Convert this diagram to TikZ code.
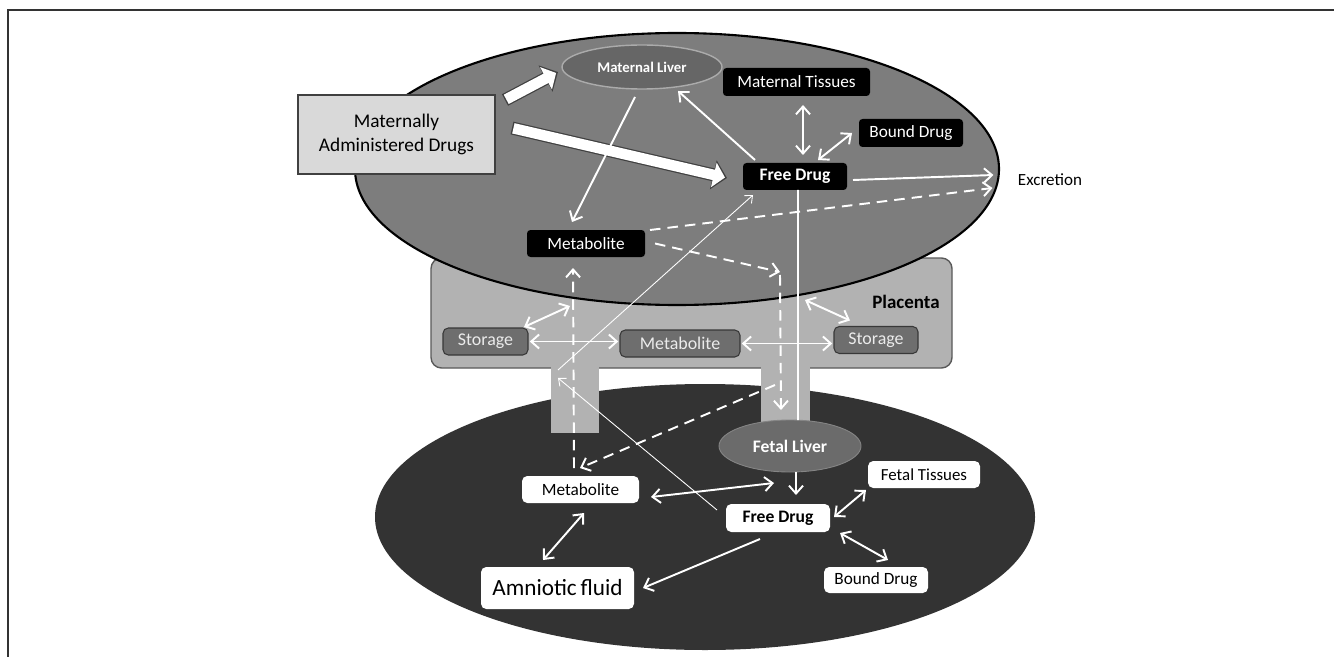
\documentclass[tikz,border=0pt]{standalone}
\usepackage{fontspec}
\setmainfont{Carlito}
\usetikzlibrary{arrows.meta,shapes.geometric}

\newcommand{\fsz}[1]{\fontsize{#1}{1.2\dimexpr #1\relax}\selectfont}

\tikzset{
  every node/.style={inner sep=0pt, outer sep=0pt},
  blackbox/.style={fill=black, text=white, rounded corners=2pt, minimum height=0.56cm, font=\fsz{9.8pt}},
  greybox/.style={fill=black!57, draw=black!78, line width=0.6pt, text=white!92!black, rounded corners=3pt, minimum height=0.54cm, font=\fsz{10.2pt}},
  whitebox/.style={fill=white, text=black, rounded corners=3pt, minimum height=0.54cm, font=\fsz{9.8pt}},
  liver/.style={ellipse, fill=black!60, line width=0.8pt, text=white, font=\bfseries\fsz{10pt}},
  wline/.style={draw=white, line width=1.1pt, -{Straight Barb[length=4.5pt,width=8pt]}},
  wboth/.style={wline, {Straight Barb[length=4.5pt,width=8pt]}-{Straight Barb[length=4.5pt,width=8pt]}},
  wdash/.style={wline, dash pattern=on 6pt off 4pt},
  wthin/.style={draw=white, line width=0.5pt, -{Straight Barb[length=3.5pt,width=6pt]}},
  fatarrow/.style={draw=white, line width=6pt, shorten <=0.8pt, shorten >=1.2pt,
    -{Triangle[length=6.5pt,width=14pt]},
    preaction={draw=black!75, line width=7.4pt, shorten <=0pt, shorten >=0pt,
      -{Triangle[length=8pt,width=16.5pt]}}}
}

\begin{document}
\begin{tikzpicture}
        \useasboundingbox (0,0) rectangle (26.68,-13.14);
        \draw[black!80, line width=0.8pt] (0.16,-13.14) -- (0.16,-0.2) -- (26.68,-0.2);

        % ~~~~ Compartimentos ~~~~ %
        \fill[black!80] (14.1,-10.34) ellipse (6.6 and 2.66);
        \draw[fill=black!30, draw=black!65, line width=0.8pt, rounded corners=6pt]
            (8.62,-5.16) rectangle (19.04,-7.36);
        \fill[black!30] (11.02,-7.3) rectangle (11.98,-8.66);
        \fill[black!30] (15.22,-7.3) rectangle (16.2,-8.44);
        \draw[fill=black!51, line width=1.2pt] (13.54,-3.38) ellipse (6.44 and 2.72);

        % ~~~~ Madre ~~~~ %
        \node[fill=black!15, draw=black!75, line width=1pt, minimum width=3.94cm, minimum height=1.58cm,
            align=center, font=\fsz{11pt}] (drugs) at (7.93,-2.69) {Maternally\\Administered Drugs};
        \node[liver, draw=black!33, minimum width=3.2cm, minimum height=0.88cm, font=\bfseries\fsz{8.4pt}]
            (mliver) at (12.84,-1.34) {Maternal Liver};
        \node[blackbox, minimum width=2.94cm] (mtissue) at (15.93,-1.64) {Maternal Tissues};
        \node[blackbox, minimum width=2.08cm] (mbound) at (18.22,-2.66) {Bound Drug};
        \node[blackbox, minimum width=2.08cm, minimum height=0.54cm, font=\bfseries\fsz{10pt}]
            (mfree) at (15.9,-3.53) {Free Drug};
        \node[blackbox, minimum width=2.36cm, minimum height=0.54cm] (mmeta) at (11.72,-4.87) {Metabolite};
        \node[font=\fsz{9.7pt}] (excr) at (21.0,-3.6) {Excretion};

        % ~~~~ Placenta ~~~~ %
        \node[font=\bfseries\fsz{10.8pt}] (plac) at (18.12,-6.04) {Placenta};
        \node[greybox, minimum width=1.7cm] (lstore) at (9.71,-6.83) {Storage};
        \node[greybox, minimum width=2.4cm] (pmeta) at (13.6,-6.87) {Metabolite};
        \node[greybox, minimum width=1.68cm] (rstore) at (17.52,-6.8) {Storage};
        \coordinate (lgate) at (11.4,-6.12);
        \coordinate (rgate) at (16.1,-6.0);
        \coordinate (bend) at (15.6,-5.44);
        \coordinate (fork) at (15.5,-7.7);
        \coordinate (cross) at (11.16,-7.48);

        % ~~~~ Feto ~~~~ %
        \node[liver, draw=black!48, line width=0.5pt, fill=black!58, minimum width=2.84cm, minimum height=1.04cm]
            (fliver) at (15.8,-8.92) {Fetal Liver};
        \node[whitebox, minimum width=2.34cm] (fmeta) at (11.61,-9.79) {Metabolite};
        \node[whitebox, minimum width=2.08cm, minimum height=0.56cm, font=\bfseries\fsz{10pt}]
            (ffree) at (15.56,-10.36) {Free Drug};
        \node[whitebox, minimum width=2.24cm, font=\fsz{9.6pt}] (ftissue) at (18.48,-9.49) {Fetal Tissues};
        \node[whitebox, minimum width=2.08cm, minimum height=0.52cm] (fbound) at (17.52,-11.6) {Bound Drug};
        \node[whitebox, minimum width=3.06cm, minimum height=0.84cm, font=\fsz{13.2pt}]
            (amnio) at (11.15,-11.76) {Amniotic\,fluid};

        % ~~~~ Flechas madre ~~~~ %
        \draw[fatarrow] ([xshift=.2cm,yshift=-.1cm]drugs.north east) -- ([xshift=-.08cm,yshift=-.1cm]mliver.west);
        \draw[fatarrow] ([xshift=.34cm,yshift=.13cm]drugs.east) -- ([xshift=-.32cm,yshift=-.03cm]mfree.west);
        \draw[wline] ([xshift=-.14cm,yshift=-.16cm]mliver.south) -- ([xshift=-.28cm,yshift=.16cm]mmeta.north);
        \draw[wline] ([xshift=.24cm,yshift=.06cm]mfree.north west) -- ([xshift=.72cm,yshift=-.04cm]mliver.south);
        \draw[wboth] ([xshift=.13cm,yshift=-.18cm]mtissue.south) -- ([xshift=.16cm,yshift=.16cm]mfree.north);
        \draw[wboth] ([xshift=-.14cm]mbound.west) -- ([xshift=.46cm,yshift=.06cm]mfree.north);
        \draw[wline] ([xshift=.12cm,yshift=-.07cm]mfree.east) -- ([xshift=-.49cm,yshift=.1cm]excr.west);
        \draw[wdash] ([xshift=.1cm]mmeta.north east) -- ([xshift=-.51cm,yshift=-.16cm]excr.west);
        \draw[wdash] ([xshift=.2cm]mmeta.east) -- (bend);
        \draw[wdash] ([yshift=-.06cm]bend) -- ([xshift=-.18cm,yshift=.2cm]fliver.north);
        \draw[white, line width=0.9pt] ([xshift=.06cm]mfree.south) -- ([xshift=.16cm]fliver.north);

        % ~~~~ Flechas placenta ~~~~ %
        \draw[wboth] ([xshift=-.08cm,yshift=.02cm]lstore.north east) -- (lgate);
        \draw[wboth] (rgate) -- ([xshift=.32cm,yshift=.12cm]rstore.north west);
        \draw[wboth, shorten <=1pt, shorten >=1pt] (lstore.east) -- (lstore.east -| pmeta.west);
        \draw[wboth, shorten <=1pt, shorten >=1pt] (pmeta.east) -- (pmeta.east -| rstore.west);
        \draw[wthin] ([xshift=-.18cm,yshift=.16cm]ffree.west) -- ([yshift=-.08cm]cross);
        \draw[wthin] ([yshift=.08cm]cross) -- ([xshift=.2cm,yshift=-.1cm]mfree.south west);
        \draw[wdash] ([xshift=-.13cm,yshift=.16cm]fmeta.north) -- ([xshift=-.26cm,yshift=-.22cm]mmeta.south);
        \draw[wdash] (fork) -- ([xshift=-.01cm,yshift=.16cm]fmeta.north);

        % ~~~~ Flechas feto ~~~~ %
        \draw[wline] ([xshift=.12cm]fliver.south) -- ([xshift=.36cm,yshift=.18cm]ffree.north);
        \draw[wboth] ([xshift=.24cm,yshift=-.15cm]fmeta.east) -- ([xshift=-.08cm,yshift=.42cm]ffree.north);
        \draw[wboth] ([xshift=.07cm,yshift=-.2cm]fmeta.south) -- ([xshift=-.29cm,yshift=.14cm]amnio.north);
        \draw[wline] ([xshift=-.36cm,yshift=-.14cm]ffree.south) -- ([xshift=.18cm]amnio.east);
        \draw[wboth] ([xshift=.08cm,yshift=.02cm]ffree.east) -- ([xshift=-.04cm,yshift=-.04cm]ftissue.south west);
        \draw[wboth] ([xshift=.2cm,yshift=-.02cm]ffree.south east) -- ([xshift=.24cm,yshift=.14cm]fbound.north);
    \end{tikzpicture}
\end{document}
